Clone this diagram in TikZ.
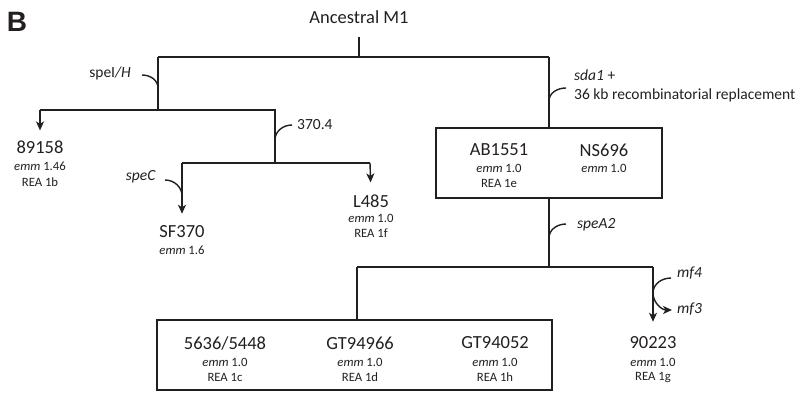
\documentclass[tikz,border=0pt]{standalone}
\usepackage{fontspec}
\setmainfont{Carlito}
\newfontfamily\panelfont{Liberation Sans}
\usetikzlibrary{arrows.meta}
\definecolor{ink}{RGB}{35,31,32}

\tikzset{
  branch/.style={draw=ink, line width=1.4pt},
  arrowline/.style={branch, -{Stealth[length=9pt,width=8pt,inset=2.5pt]}},
  strain/.style={inner sep=0pt, text=ink, font=\fontsize{18.5}{20}\selectfont},
  info/.style={inner sep=0pt, text=ink, font=\fontsize{12.7}{14}\selectfont},
  gene/.style={inner sep=0pt, text=ink, font=\fontsize{15.5}{17}\selectfont},
  group/.style={draw=ink, line width=1.4pt, inner sep=0pt},
}

\begin{document}
\begin{tikzpicture}[x=1pt, y=-1pt]
            \useasboundingbox (0,0) rectangle (802,392);

            % Panel
            \node[inner sep=0pt, text=ink, font=\panelfont\bfseries\fontsize{28}{30}\selectfont] (panel) at (17,22) {B};
            \node[strain] (anc) at (359,17) {Ancestral M1};

            % Nudos del arbol
            \coordinate (root) at (359,57);
            \coordinate (nI) at (158,57);
            \coordinate (nR) at (549,57);
            \coordinate (n1) at (158,110);
            \coordinate (j89) at (40,110);
            \coordinate (n2) at (275,110);
            \coordinate (n3) at (275,163);
            \coordinate (jSF) at (182,163);
            \coordinate (jL) at (370,163);
            \coordinate (n4) at (549,267);
            \coordinate (jB) at (357,267);
            \coordinate (j90) at (653,267);

            % Grupos
            \node[group, minimum width=226pt, minimum height=70pt] (boxE) at (549,163) {};
            \node[group, minimum width=395pt, minimum height=70pt] (boxB) at (354.5,355) {};

            % Cepas
            \node[strain] (s89) at (40,147) {89158};
            \node[info] (s89e) at (40,166) {\textit{emm} 1.46};
            \node[info] (s89r) at (40,182) {REA 1b};
            \node[strain] (sSF) at (182,232) {SF370};
            \node[info] (sSFe) at (182,250) {\textit{emm} 1.6};
            \node[strain] (sL) at (371,201) {L485};
            \node[info] (sLe) at (371,218) {\textit{emm} 1.0};
            \node[info] (sLr) at (371,233) {REA 1f};
            \node[strain] (sAB) at (499,150) {AB1551};
            \node[info] (sABe) at (499,168) {\textit{emm} 1.0};
            \node[info] (sABr) at (499,183) {REA 1e};
            \node[strain] (sNS) at (604,150) {NS696};
            \node[info] (sNSe) at (604,168) {\textit{emm} 1.0};
            \node[strain] (s56) at (225,343) {5636/5448};
            \node[info] (s56e) at (225,362) {\textit{emm} 1.0};
            \node[info] (s56r) at (225,377) {REA 1c};
            \node[strain] (sG66) at (360,343) {GT94966};
            \node[info] (sG66e) at (360,362) {\textit{emm} 1.0};
            \node[info] (sG66r) at (360,377) {REA 1d};
            \node[strain] (sG52) at (495,343) {GT94052};
            \node[info] (sG52e) at (495,362) {\textit{emm} 1.0};
            \node[info] (sG52r) at (495,377) {REA 1h};
            \node[strain] (s90) at (653,343) {90223};
            \node[info] (s90e) at (653,362) {\textit{emm} 1.0};
            \node[info] (s90r) at (653,377) {REA 1g};

            % Ramas
            \draw[branch, shorten <=13pt] (anc.south) -- (root);
            \draw[branch] (nI) -- (nR);
            \draw[branch] (nI) -- (n1);
            \draw[branch] (j89) -- (n2) -- (n3);
            \draw[branch] (jSF) -- (jL);
            \draw[branch] (nR) -- (boxE);
            \draw[branch] (boxE) -- (n4);
            \draw[branch] (jB) -- (j90);
            \draw[branch] (jB) -- (jB |- boxB.north);
            \draw[arrowline, shorten >=10pt] (j89) -- (s89.north);
            \draw[arrowline, shorten >=12pt] (jSF) -- (sSF.north);
            \draw[arrowline, shorten >=12pt] (jL) -- (sL.north);
            \draw[arrowline, shorten >=15pt] (j90) -- (s90.north);

            % Ganancias de genes
            \node[gene, anchor=east] (gI) at (131,73) {speI\textit{/H}};
            \node[gene, anchor=west] (g370) at (297,125) {370.4};
            \node[gene, anchor=east] (gC) at (156,177) {\textit{speC}};
            \node[gene, anchor=west] (gsda) at (574,75) {\textit{sda1} +};
            \node[gene, anchor=west] (g36) at (574,95) {36 kb recombinatorial replacement};
            \node[gene, anchor=west] (gA2) at (577,225) {\textit{speA2}};
            \node[gene, anchor=west] (gmf4) at (677,273) {\textit{mf4}};
            \node[gene, anchor=west] (gmf3) at (677,309) {\textit{mf3}};

            \coordinate (hI) at (142,75);
            \coordinate (h370) at (292,125);
            \coordinate (hC) at (165,180);
            \coordinate (hsda) at (566,88);
            \coordinate (hA2) at (566,224);
            \coordinate (hmf4) at (671,278);
            \coordinate (hmf3) at (653,293);
            \draw[branch] (hI) to[out=0, in=90] ++(16,13);
            \draw[branch] (h370) to[out=180, in=90] ++(-17,15);
            \draw[branch] (hC) to[out=0, in=90] ++(17,16);
            \draw[branch] (hsda) to[out=180, in=90] ++(-17,13);
            \draw[branch] (hA2) to[out=180, in=90] ++(-17,14);
            \draw[branch] (hmf4) to[out=180, in=90] (hmf3);
            \draw[arrowline] (hmf3) to[out=-90, in=180] ++(19,17);
        \end{tikzpicture}
\end{document}
